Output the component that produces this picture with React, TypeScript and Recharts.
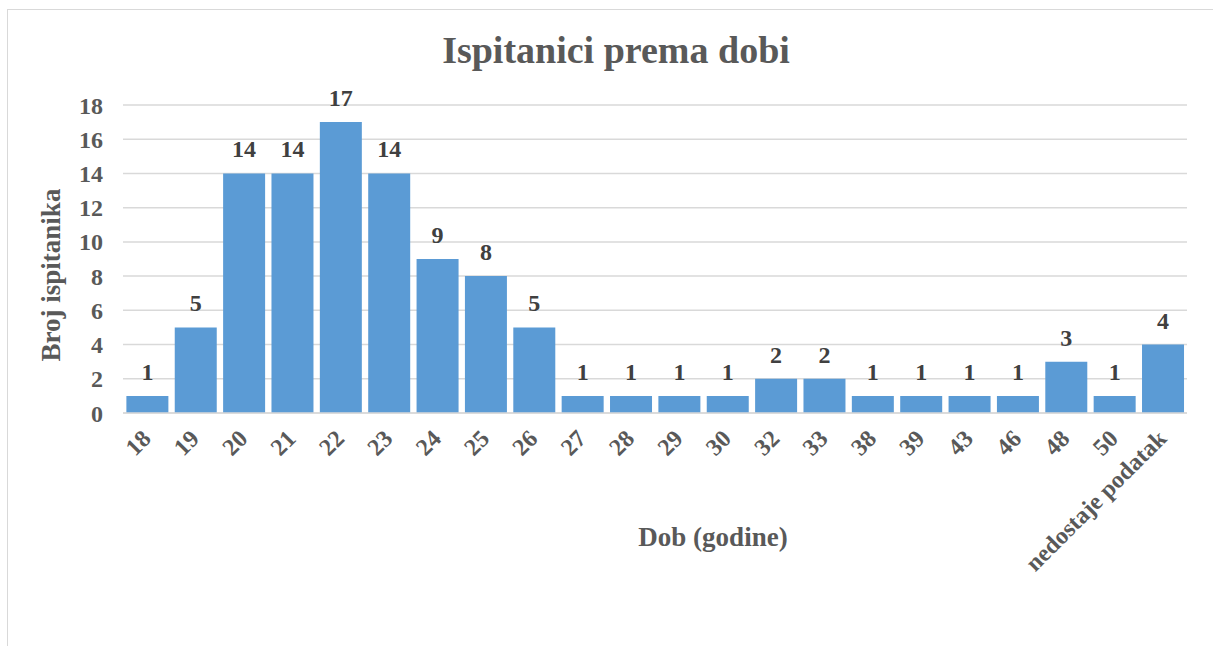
// Ispitanici prema dobi – stupčasti grafikon (Recharts)

import { BarChart, Bar, XAxis, YAxis, CartesianGrid, LabelList } from 'recharts'

// kategorije (dob) i broj ispitanika
const ages = ['18', '19', '20', '21', '22', '23', '24', '25', '26', '27', '28', '29', '30', '32', '33', '38', '39', '43', '46', '48', '50', 'nedostaje podatak']
const counts = [1, 5, 14, 14, 17, 14, 9, 8, 5, 1, 1, 1, 1, 2, 2, 1, 1, 1, 1, 3, 1, 4]
const yTicks = [0, 2, 4, 6, 8, 10, 12, 14, 16, 18]

const data = ages.map((age, i) => ({ age, count: counts[i] }))

const FONT = '"Liberation Serif", "Times New Roman", serif'
const AXIS_COLOR = '#595959'

// zarotirane oznake na x osi
const XTick = ({ x, y, payload }: any) => (
  <g transform={`translate(${x + 5},${y + 15})`}>
    <text
      x={0}
      y={0}
      textAnchor="end"
      transform="rotate(-45)"
      fill={AXIS_COLOR}
      fontFamily={FONT}
      fontWeight="bold"
      fontSize={24}
    >
      {payload.value}
    </text>
  </g>
)

export default function App() {
  return (
    <div style={{ position: 'absolute', left: 0, top: 0, width: 1213, height: 646, background: '#fff', overflow: 'hidden' }}>
      {/* okvir grafikona */}
      <div style={{ position: 'absolute', left: 7, top: 9, width: 1220, height: 700, border: '1px solid #d9d9d9' }} />

      <div style={{ position: 'absolute', left: 0, top: 0 }}>
        <BarChart width={1213} height={646} data={data} margin={{ top: 105, right: 26, left: 0, bottom: 0 }} barCategoryGap="7%">
          <text x={616} y={63} textAnchor="middle" fill={AXIS_COLOR} fontFamily={FONT} fontWeight="bold" fontSize={38}>
            Ispitanici prema dobi
          </text>
          <CartesianGrid vertical={false} stroke="#d9d9d9" strokeWidth={1.5} />
          <XAxis
            dataKey="age"
            interval={0}
            height={233}
            tickLine={false}
            tickMargin={6}
            axisLine={{ stroke: '#d9d9d9', strokeWidth: 1.5 }}
            tick={<XTick />}
            label={{
              content: () => (
                <text x={713} y={546} textAnchor="middle" fill={AXIS_COLOR} fontFamily={FONT} fontWeight="bold" fontSize={27}>
                  Dob (godine)
                </text>
              ),
            }}
          />
          <YAxis
            width={123}
            domain={[0, 18]}
            ticks={yTicks}
            interval={0}
            axisLine={false}
            tickLine={false}
            tickMargin={14}
            tick={{ fill: AXIS_COLOR, fontFamily: FONT, fontWeight: 'bold', fontSize: 24 }}
            label={{
              content: () => (
                <text x={60} y={275} transform="rotate(-90 60 275)" textAnchor="middle" fill={AXIS_COLOR} fontFamily={FONT} fontWeight="bold" fontSize={27}>
                  Broj ispitanika
                </text>
              ),
            }}
          />
          <Bar dataKey="count" fill="#5b9bd5" isAnimationActive={false}>
            <LabelList dataKey="count" position="top" offset={16} fill="#404040" fontFamily={FONT} fontWeight="bold" fontSize={24} />
          </Bar>
        </BarChart>
      </div>
    </div>
  )
}
